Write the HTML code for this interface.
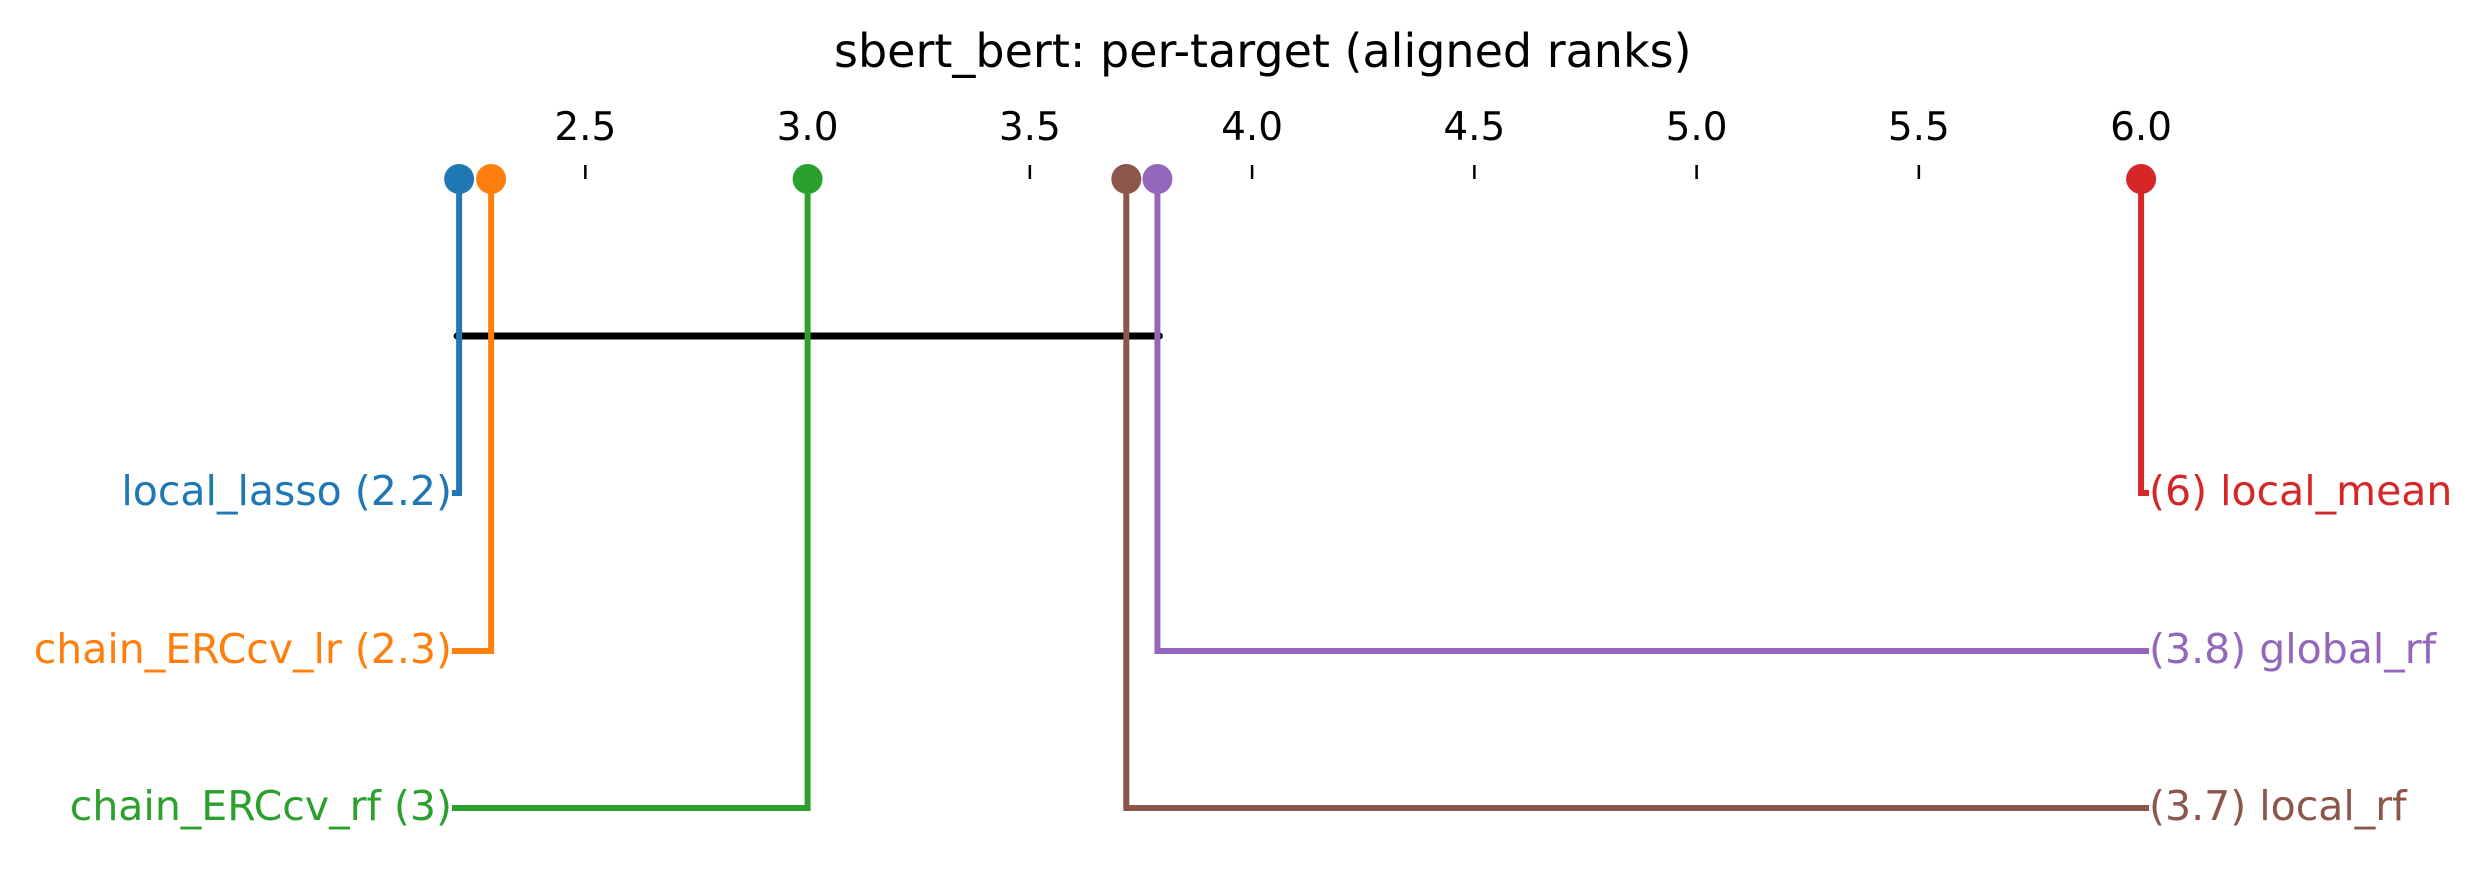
<!DOCTYPE html>
<html><head><meta charset="utf-8"><style>
html,body{margin:0;padding:0;background:#fff;}
svg{display:block;font-family:"DejaVu Sans","Liberation Sans",sans-serif;}
</style></head><body>
<svg id="chart" width="2483" height="870" viewBox="0 0 2483 870" xmlns="http://www.w3.org/2000/svg">
<text x="834" y="67" font-size="46" fill="#000">sbert_bert: per-target (aligned ranks)</text>
</svg>
<script>
const names = ["local_lasso","chain_ERCcv_lr","chain_ERCcv_rf","local_rf","global_rf","local_mean"];
const ranks = [2.216,2.288,3.0,3.717,3.787,6.0];
const rankLabels = ["2.2","2.3","3","3.7","3.8","6"];
const colors = ["#1f77b4","#ff7f0e","#2ca02c","#8c564b","#9467bd","#d62728"];
const ticks = [2.5,3.0,3.5,4.0,4.5,5.0,5.5,6.0];
const tickLabels = ["2.5","3.0","3.5","4.0","4.5","5.0","5.5","6.0"];
const cliqueLo = [2.216];
const cliqueHi = [3.787];

const svg = document.getElementById('chart');
const NS = "http://www.w3.org/2000/svg";
function x(v){ return 807.6 + (v-3.0)*444.5; }
const axisY = 179, rowY = [493, 651, 808];
function mk(tag, attrs){ const e=document.createElementNS(NS,tag); for(const k in attrs) e.setAttribute(k,attrs[k]); svg.appendChild(e); return e; }

ticks.forEach((t,i)=>{
  const l = mk('line',{x1:x(t),x2:x(t),y1:165,y2:axisY,stroke:'#000','stroke-width':2.5});
  
  
  const tx = mk('text',{x:x(t),y:140,'font-size':39,'text-anchor':'middle',fill:'#000'});
  tx.textContent = tickLabels[i];
  
  
});

cliqueLo.forEach((lo,i)=>{
  const b = mk('line',{x1:x(lo)-2,x2:x(cliqueHi[i])+2,y1:336,y2:336,stroke:'#000','stroke-width':7,'stroke-linecap':'round'});
  
  
});

const order = ranks.map((r,i)=>i).sort((a,b)=>ranks[a]-ranks[b]);
const half = Math.ceil(order.length/2);
order.forEach((idx,k)=>{
  const left = k < half;
  const row = left ? k : (order.length-1-k);
  const yy = rowY[row];
  const px = x(ranks[idx]);
  const ex = left ? 452 : 2149;
  const p = mk('polyline',{points:`${px},${axisY} ${px},${yy} ${ex},${yy}`,fill:'none',stroke:colors[idx],'stroke-width':6,'stroke-linejoin':'miter'});
  
  
  const c = mk('circle',{cx:px,cy:axisY,r:15,fill:colors[idx]});
  
  
  const t = mk('text',{x:left?452:2149,y:yy+12,'font-size':41,fill:colors[idx],'text-anchor':left?'end':'start'});
  t.textContent = left ? `${names[idx]} (${rankLabels[idx]})` : `(${rankLabels[idx]}) ${names[idx]}`;
  
  
});
</script>
</body></html>
